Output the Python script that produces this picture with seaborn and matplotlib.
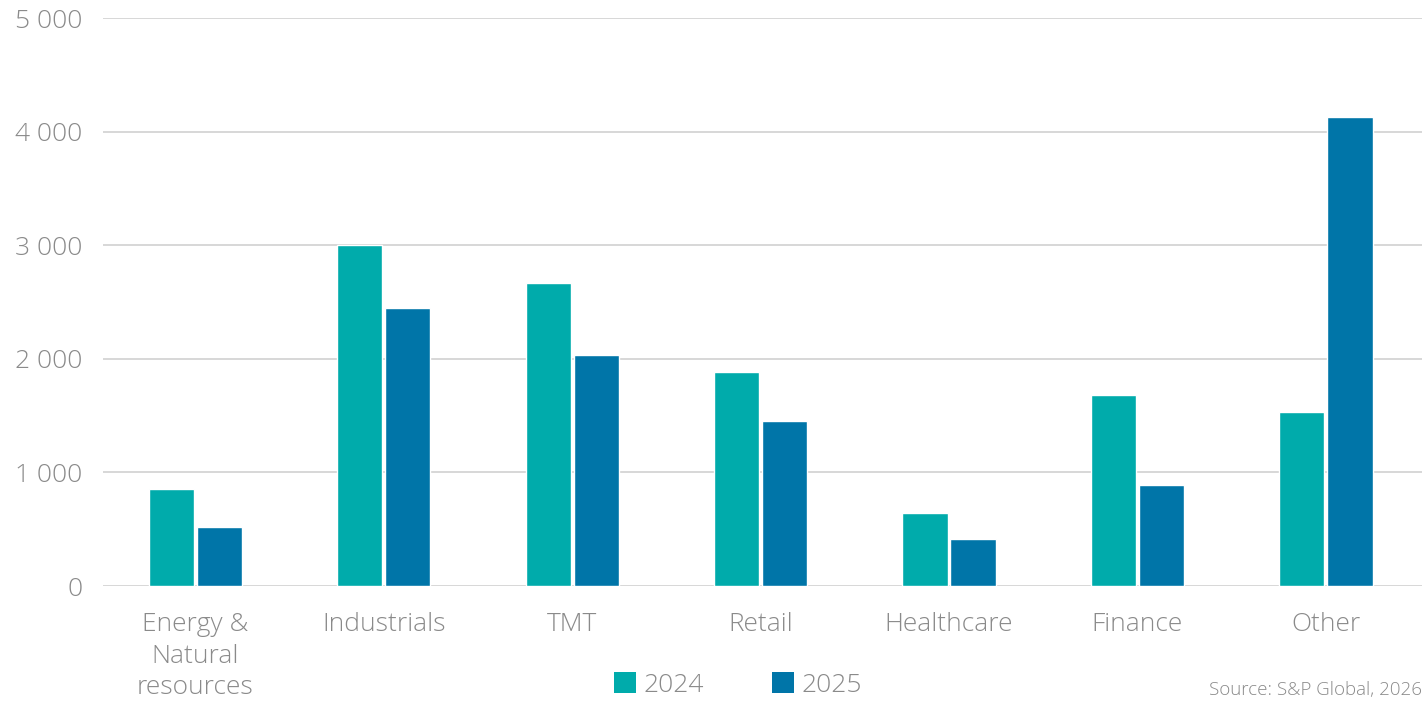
import matplotlib
matplotlib.use("Agg")
import matplotlib.pyplot as plt
import matplotlib.ticker as mticker
from matplotlib.patches import Patch
import seaborn as sns
import pandas as pd

# Sector labels and yearly counts
sectors = ["Energy &\nNatural\nresources", "Industrials", "TMT", "Retail",
           "Healthcare", "Finance", "Other"]
values_2024 = [850, 3000, 2670, 1880, 640, 1680, 1530]
values_2025 = [520, 2450, 2030, 1450, 410, 890, 4130]
years = ["2024", "2025"]
y_ticks = [0, 1000, 2000, 3000, 4000, 5000]
source_note = "Source: S&P Global, 2026"

colors = {"2024": "#00abab", "2025": "#0075a8"}
text_grey = "#8a8a8a"
grid_grey = "#d4d4d4"

sns.set_theme(style="white")
plt.rcParams["font.family"] = ["Open Sans", "DejaVu Sans"]
plt.rcParams["font.weight"] = "light"

df = pd.DataFrame({
    "sector": sectors * 2,
    "year": [years[0]] * len(sectors) + [years[1]] * len(sectors),
    "value": values_2024 + values_2025,
})

fig = plt.figure(figsize=(14.27, 7.04), dpi=100)
ax = fig.add_axes([103 / 1427, 1 - 586 / 704, (1422 - 103) / 1427, (586 - 18) / 704])

sns.barplot(data=df, x="sector", y="value", hue="year", order=sectors,
            hue_order=years, palette=colors, width=0.51, gap=0.06,
            saturation=1, legend=False, ax=ax)

ax.set_ylim(0, 5000)
ax.set_xlim(-0.49, len(sectors) - 0.49)
ax.set_yticks(y_ticks)
ax.yaxis.set_major_formatter(
    mticker.FuncFormatter(lambda v, _: f"{int(v):,}".replace(",", " ")))
ax.yaxis.grid(True, color=grid_grey, linewidth=1.3)
ax.set_axisbelow(True)
for s in ax.spines.values():
    s.set_visible(False)
ax.set_xlabel("")
ax.set_ylabel("")
ax.tick_params(axis="y", length=0, pad=15, labelsize=19, labelcolor=text_grey)
ax.tick_params(axis="x", length=0, pad=19, labelsize=19, labelcolor=text_grey)
for lbl in ax.get_xticklabels():
    lbl.set_linespacing(1.34)
    lbl.set_fontweight("light")
for lbl in ax.get_yticklabels():
    lbl.set_fontweight("light")

handles = [Patch(facecolor=colors[y], edgecolor="none") for y in years]
fig.legend(handles, years, loc="center", bbox_to_anchor=(738 / 1427, 1 - 685 / 704),
           ncol=2, frameon=False, labelcolor=text_grey,
           handlelength=0.85, handleheight=0.85, handletextpad=0.3,
           columnspacing=2.55, prop={"weight": "light", "size": 19})

fig.text(1422 / 1427, 1 - 690 / 704, source_note, ha="right", va="center",
         fontsize=13.5, color=text_grey, fontweight="light")

fig.savefig("out.png", dpi=100)
